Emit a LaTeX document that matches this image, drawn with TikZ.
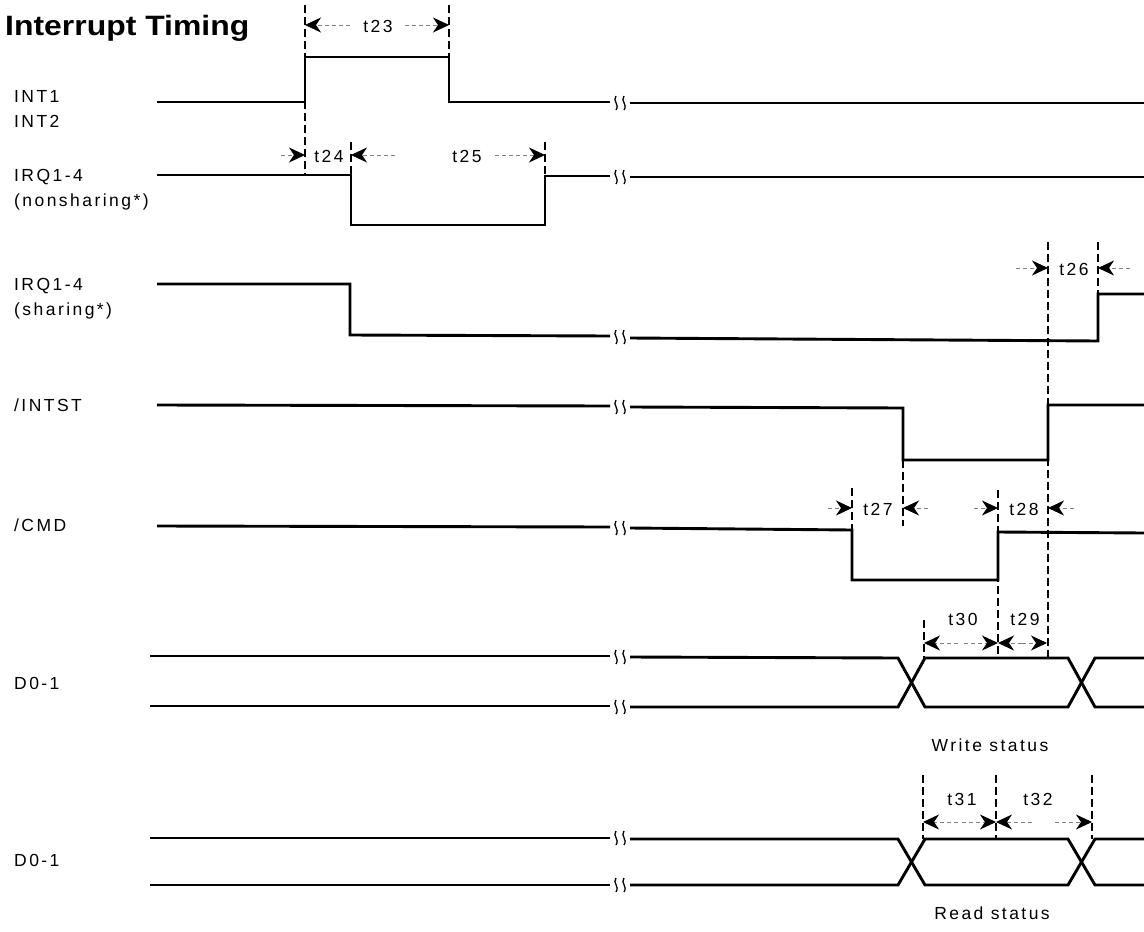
\documentclass[tikz,border=0pt]{standalone}
\usepackage{fontspec}
\setmainfont{Liberation Sans}
\newfontfamily\lblfont[LetterSpace=14]{Liberation Sans}
\newfontfamily\ttlfont[FakeStretch=1.14]{Liberation Sans}
\usetikzlibrary{arrows.meta}
\tikzset{
  sig/.style={line width=2.9pt, line join=miter},
  vdash/.style={line width=1.2pt, dash pattern=on 8pt off 4pt},
  dim/.style={line width=0.9pt, gray, dash pattern=on 4pt off 3pt,
     -{Stealth[length=16pt,width=15pt,inset=5pt,black,fill=black,line width=1pt]}},
  lbl/.style={anchor=base west, inner sep=0pt, font=\lblfont\fontsize{17.5}{20}\selectfont},
  tlbl/.style={anchor=base, inner sep=0pt, font=\lblfont\fontsize{17.5}{20}\selectfont},
  brk/.pic={
    \draw[line width=1.3pt] (-4,-7) .. controls (-8,-2) and (0,1) .. (-4,7);
    \draw[line width=1.3pt] (4,-7) .. controls (0,-2) and (8,1) .. (4,7);
  }
}
\begin{document}
\begin{tikzpicture}[x=1pt,y=-1pt]
\useasboundingbox (0,0) rectangle (1144,932);
% title
\node[anchor=base west, inner sep=0pt, font=\ttlfont\bfseries\fontsize{28}{30}\selectfont] (title) at (5,35) {Interrupt Timing};
% labels
\node[lbl] (lint1) at (14,102) {INT1};
\node[lbl] (lint2) at (14,127) {INT2};
\node[lbl] (lirqa) at (14,181) {IRQ1-4};
\node[lbl] (lirqb) at (14,206) {(nonsharing*)};
\node[lbl] (lirqc) at (14,290) {IRQ1-4};
\node[lbl] (lirqd) at (14,315) {(sharing*)};
\node[lbl] (lintst) at (14,411) {/INTST};
\node[lbl] (lcmd) at (14,531) {/CMD};
\node[lbl] (ld1) at (14,689) {D0-1};
\node[lbl] (ld2) at (14,866) {D0-1};

% signals
\draw[sig] (157,102) -- (305,102) -- (305,57) -- (449,57) -- (449,102) -- (610,102);
\draw[sig] (630,103) -- (1144,103);
\pic at (620,103) {brk};

\draw[sig] (157,175) -- (351,175) -- (351,225) -- (545,225) -- (545,176) -- (610,176);
\draw[sig] (630,177) -- (1144,177);
\pic at (620,177) {brk};

\draw[sig] (157,284) -- (350,284) -- (350,335) -- (610,336);
\draw[sig] (630,338) -- (1098,341) -- (1098,294) -- (1144,294);
\pic at (620,337) {brk};

\draw[sig] (157,405) -- (610,406);
\draw[sig] (630,407) -- (903,408) -- (903,460) -- (1048,460) -- (1048,405) -- (1144,405);
\pic at (620,407) {brk};

\draw[sig] (157,526) -- (610,527);
\draw[sig] (630,528) -- (852,530) -- (852,580) -- (998,580) -- (998,532) -- (1144,533);
\pic at (620,528) {brk};

% D0-1 write
\draw[sig] (150,656) -- (610,656);
\draw[sig] (630,657) -- (898,658) -- (925,707) -- (1068,707) -- (1095,658) -- (1144,658);
\draw[sig] (150,706) -- (610,706);
\draw[sig] (630,707) -- (898,707) -- (925,658) -- (1068,658) -- (1095,707) -- (1144,707);
\pic at (620,657) {brk};
\pic at (620,707) {brk};

% D0-1 read
\draw[sig] (150,838) -- (610,838);
\draw[sig] (630,839) -- (898,839) -- (925,885) -- (1068,885) -- (1095,839) -- (1144,839);
\draw[sig] (150,885) -- (610,885);
\draw[sig] (630,885) -- (898,885) -- (925,839) -- (1068,839) -- (1095,885) -- (1144,885);
\pic at (620,838) {brk};
\pic at (620,885) {brk};

% dashed reference lines
\draw[vdash] (305,5) -- (305,175);
\draw[vdash] (449,5) -- (449,57);
\draw[vdash] (351,142) -- (351,225);
\draw[vdash] (545,142) -- (545,176);
\draw[vdash] (1048,242) -- (1048,660);
\draw[vdash] (1098,242) -- (1098,294);
\draw[vdash] (903,460) -- (903,526);
\draw[vdash] (852,488) -- (852,530);
\draw[vdash] (998,490) -- (998,658);
\draw[vdash] (924,620) -- (924,658);
\draw[vdash] (923,775) -- (923,839);
\draw[vdash] (996,775) -- (996,839);
\draw[vdash] (1092,775) -- (1092,839);

% timing labels
\node[tlbl] (t23) at (378,32) {t23};
\node[tlbl] (t24) at (329,162) {t24};
\node[tlbl] (t25) at (467,162) {t25};
\node[tlbl] (t26) at (1074,275) {t26};
\node[tlbl] (t27) at (878,515) {t27};
\node[tlbl] (t28) at (1024,515) {t28};
\node[tlbl] (t30) at (963,625) {t30};
\node[tlbl] (t29) at (1025,625) {t29};
\node[tlbl] (t31) at (962,805) {t31};
\node[tlbl] (t32) at (1038,805) {t32};
\node[tlbl] (wst) at (990,751) {Write status};
\node[tlbl] (rst) at (992,919) {Read status};

% dimension arrows
\draw[dim] (350,25) -- (305,25);
\draw[dim] (405,25) -- (449,25);
\draw[dim] (281,155) -- (305,155);
\draw[dim] (395,155) -- (351,155);
\draw[dim] (495,155) -- (545,155);
\draw[dim] (1016,268) -- (1048,268);
\draw[dim] (1130,268) -- (1098,268);
\draw[dim] (828,508) -- (852,508);
\draw[dim] (928,508) -- (903,508);
\draw[dim] (974,508) -- (998,508);
\draw[dim] (1074,508) -- (1048,508);
\draw[dim] (958,643) -- (924,643);
\draw[dim] (964,643) -- (998,643);
\draw[dim] (1022,643) -- (998,643);
\draw[dim] (1022,643) -- (1047,643);
\draw[dim] (958,822) -- (923,822);
\draw[dim] (962,822) -- (996,822);
\draw[dim] (1032,822) -- (996,822);
\draw[dim] (1055,822) -- (1092,822);
\end{tikzpicture}
\end{document}
